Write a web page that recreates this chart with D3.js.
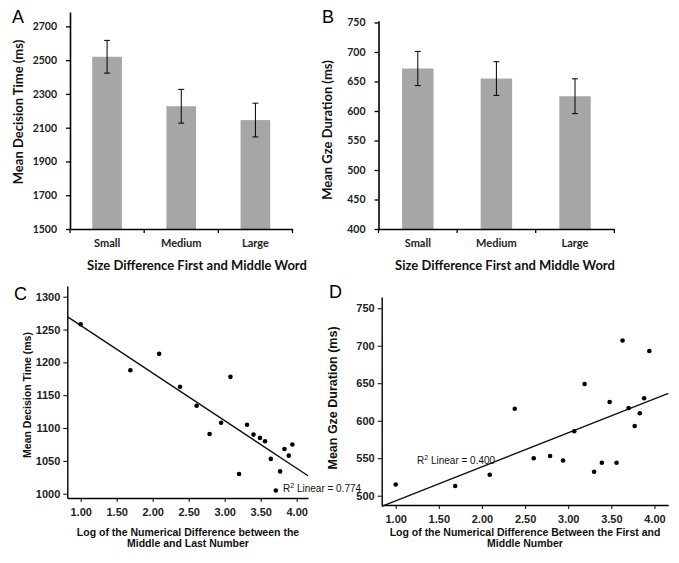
<!DOCTYPE html>
<html>
<head>
<meta charset="utf-8">
<script src="https://cdn.jsdelivr.net/npm/d3@7"></script>
<style>
  html, body { margin: 0; padding: 0; background: #fff; }
  svg { display: block; }
</style>
</head>
<body>
<svg id="chart" width="679" height="563"></svg>
<script>
// ---------- DATA ----------
const sizeCategories = ["Small", "Medium", "Large"];
const decisionTimeMeans = [2520, 2227, 2145];
const decisionTimeErrors = [97, 100, 100];
const gazeDurationMeans = [672, 655, 625];
const gazeDurationErrors = [29, 28.5, 29.5];
const decisionTimeTicks = [1500, 1700, 1900, 2100, 2300, 2500, 2700];
const gazeDurationTicks = [400, 450, 500, 550, 600, 650, 700, 750];

const logDiffMiddleLast = [1.00, 1.69, 2.09, 2.38, 2.61, 2.79, 2.95, 3.08, 3.20, 3.31, 3.40, 3.49, 3.56, 3.64, 3.71, 3.77, 3.83, 3.89, 3.94];
const decisionTimeByLog = [1258, 1188, 1213, 1163, 1134, 1091, 1108, 1178, 1030, 1105, 1090, 1085, 1080, 1053, 1005, 1034, 1068, 1058, 1075];
const logDiffFirstMiddle = [1.00, 1.69, 2.09, 2.38, 2.60, 2.79, 2.94, 3.07, 3.19, 3.30, 3.39, 3.48, 3.56, 3.63, 3.70, 3.77, 3.83, 3.88, 3.94];
const gazeDurationByLog = [515, 513, 528, 616, 550, 553, 547, 586, 649, 532, 544, 625, 544, 707, 617, 593, 610, 630, 693];
const logTicks = [1.00, 1.50, 2.00, 2.50, 3.00, 3.50, 4.00];
const decisionTimeLogTicks = [1000, 1050, 1100, 1150, 1200, 1250, 1300];
const gazeDurationLogTicks = [500, 550, 600, 650, 700, 750];

// fitted regression lines (intercept, slope) and R² labels
const fitC = { intercept: 1328.7, slope: -72.5, r2: "0.774" };
const fitD = { intercept: 447.9, slope: 45.3, r2: "0.400" };

// ---------- DRAW ----------
const svg = d3.select("#chart");
svg.append("rect").attr("width", 679).attr("height", 563).attr("fill", "#fff");

const barFont = "Lato, 'Open Sans', sans-serif";
const spssFont = "'Liberation Sans', Arial, sans-serif";

function panelLetter(txt, x, y) {
  svg.append("text").attr("x", x).attr("y", y).text(txt)
    .attr("font-family", spssFont).attr("font-size", 18).attr("fill", "#000");
}

function barPanel(opts) {
  const g = svg.append("g");
  const x = d3.scaleBand().domain(sizeCategories).range(opts.xRange).padding(0);
  const y = d3.scaleLinear().domain(opts.yDomain).range(opts.yRange);
  const bw = x.step() * 0.4;

  g.selectAll("rect.bar").data(opts.means).join("rect")
    .attr("x", (d, i) => x(sizeCategories[i]) + x.bandwidth() / 2 - bw / 2)
    .attr("width", bw)
    .attr("y", d => y(d))
    .attr("height", d => y(opts.yDomain[0]) - y(d))
    .attr("fill", "#a6a6a6");

  const cap = 3;
  opts.means.forEach((m, i) => {
    const cx = x(sizeCategories[i]) + x.bandwidth() / 2;
    const lo = y(m - opts.errs[i]), hi = y(m + opts.errs[i]);
    g.append("line").attr("x1", cx).attr("x2", cx).attr("y1", lo).attr("y2", hi)
      .attr("stroke", "#000").attr("stroke-width", 1);
    [lo, hi].forEach(yy => g.append("line").attr("x1", cx - cap).attr("x2", cx + cap)
      .attr("y1", yy).attr("y2", yy).attr("stroke", "#000").attr("stroke-width", 1));
  });

  const yAxis = g.append("g").attr("transform", `translate(${opts.xRange[0]},0)`)
    .call(d3.axisLeft(y).tickValues(opts.ticks).tickFormat(d3.format("d"))
      .tickSize(4).tickPadding(9).tickSizeOuter(0));
  yAxis.select(".domain").attr("stroke", "#000").attr("stroke-width", 1.6);
  yAxis.selectAll(".tick line").attr("stroke", "#000").attr("stroke-width", 1.3);
  yAxis.selectAll("text").attr("font-family", barFont).attr("font-size", 10.5)
    .attr("font-weight", "bold").attr("fill", "#222");

  const base = y(opts.yDomain[0]);
  const xAxis = g.append("g").attr("transform", `translate(0,${base})`)
    .call(d3.axisBottom(x).tickSize(0).tickPadding(10).tickSizeOuter(0));
  xAxis.select(".domain").attr("stroke", "#000").attr("stroke-width", 1.6);
  xAxis.selectAll("text").attr("font-family", barFont).attr("font-size", 11)
    .attr("font-weight", "bold").attr("fill", "#222");
  d3.range(sizeCategories.length + 1).forEach(i => {
    const xx = x.range()[0] + i * x.step();
    g.append("line").attr("x1", xx).attr("x2", xx).attr("y1", base).attr("y2", base + 4)
      .attr("stroke", "#000").attr("stroke-width", 1.3);
  });

  g.append("text").attr("x", opts.xTitleX).attr("y", 270).attr("text-anchor", "middle")
    .attr("font-family", barFont).attr("font-size", 13).attr("font-weight", "bold")
    .attr("fill", "#111").text("Size Difference First and Middle Word");
  g.append("text").attr("transform", `translate(${opts.yTitleX},${opts.yTitleY}) rotate(-90)`)
    .attr("text-anchor", "middle").attr("font-family", barFont).attr("font-size", 13)
    .attr("font-weight", "bold").attr("fill", "#111").text(opts.yTitle);
}

barPanel({
  xRange: [70, 292.5], yDomain: [1500, 2785], yRange: [229, 12],
  means: decisionTimeMeans, errs: decisionTimeErrors, ticks: decisionTimeTicks,
  xTitleX: 197, yTitleX: 23, yTitleY: 112, yTitle: "Mean Decision Time (ms)"
});
barPanel({
  xRange: [378.5, 614.3], yDomain: [400, 753], yRange: [229, 20.7],
  means: gazeDurationMeans, errs: gazeDurationErrors, ticks: gazeDurationTicks,
  xTitleX: 505, yTitleX: 332, yTitleY: 130, yTitle: "Mean Gze Duration (ms)"
});

function scatterPanel(opts) {
  const g = svg.append("g");
  const x = d3.scaleLinear().domain(opts.xDomain).range(opts.xRange);
  const y = d3.scaleLinear().domain(opts.yDomain).range(opts.yRange);

  const yAxis = g.append("g").attr("transform", `translate(${opts.xRange[0]},0)`)
    .call(d3.axisLeft(y).tickValues(opts.yTicks).tickFormat(d3.format("d"))
      .tickSize(4).tickPadding(3).tickSizeOuter(0));
  const xAxis = g.append("g").attr("transform", `translate(0,${opts.yRange[0]})`)
    .call(d3.axisBottom(x).tickValues(logTicks).tickFormat(d3.format(".2f"))
      .tickSize(4).tickPadding(6).tickSizeOuter(0));
  [xAxis, yAxis].forEach(a => {
    a.select(".domain").attr("stroke", "#000").attr("stroke-width", 1.4);
    a.selectAll(".tick line").attr("stroke", "#000").attr("stroke-width", 1);
    a.selectAll("text").attr("font-family", spssFont).attr("font-size", 11)
      .attr("font-weight", "bold").attr("fill", "#222");
  });

  const x0 = opts.xDomain[0], x1 = opts.xDomain[1];
  g.append("line")
    .attr("x1", x(x0)).attr("y1", y(opts.fit.intercept + opts.fit.slope * x0))
    .attr("x2", x(x1)).attr("y2", y(opts.fit.intercept + opts.fit.slope * x1))
    .attr("stroke", "#111").attr("stroke-width", 1.4);

  g.selectAll("circle").data(opts.xs).join("circle")
    .attr("cx", d => x(d)).attr("cy", (d, i) => y(opts.ys[i]))
    .attr("r", 2.3).attr("fill", "#000");

  const t = g.append("text").attr("x", opts.labelX).attr("y", opts.labelY)
    .attr("font-family", spssFont).attr("font-size", 10).attr("fill", "#111");
  t.append("tspan").text("R");
  t.append("tspan").attr("font-size", 7).attr("dy", -4).text("2");
  t.append("tspan").attr("dy", 4).text(" Linear = " + opts.fit.r2);

  const xt = g.append("text").attr("text-anchor", "middle")
    .attr("font-family", spssFont).attr("font-size", 10.5).attr("font-weight", "bold").attr("fill", "#111");
  opts.xTitle.forEach((line, i) => xt.append("tspan").attr("x", opts.xTitleX)
    .attr("y", 536 + i * 11).text(line));
  g.append("text").attr("transform", `translate(${opts.yTitleX},${opts.yTitleY}) rotate(-90)`)
    .attr("text-anchor", "middle").attr("font-family", spssFont).attr("font-size", opts.yTitleSize)
    .attr("font-weight", "bold").attr("fill", "#111").text(opts.yTitle);
}

scatterPanel({
  xDomain: [0.814, 4.157], xRange: [67.3, 308],
  yDomain: [993.5, 1316.3], yRange: [498, 286],
  xs: logDiffMiddleLast, ys: decisionTimeByLog, yTicks: decisionTimeLogTicks, fit: fitC,
  labelX: 283, labelY: 492,
  xTitle: ["Log of the Numerical Difference between the", "Middle and Last Number"], xTitleX: 188,
  yTitle: "Mean Decision Time (ms)", yTitleX: 31, yTitleY: 395, yTitleSize: 10.5
});
scatterPanel({
  xDomain: [0.838, 4.16], xRange: [381.7, 668.3],
  yDomain: [487.6, 765], yRange: [505, 297],
  xs: logDiffFirstMiddle, ys: gazeDurationByLog, yTicks: gazeDurationLogTicks, fit: fitD,
  labelX: 417, labelY: 464,
  xTitle: ["Log of the Numerical Difference Between the First and", "Middle Number"], xTitleX: 525,
  yTitle: "Mean Gze Duration (ms)", yTitleX: 337, yTitleY: 398, yTitleSize: 12.5
});

panelLetter("A", 12, 23);
panelLetter("B", 322, 23);
panelLetter("C", 14, 300);
panelLetter("D", 329, 298);
</script>
</body>
</html>
